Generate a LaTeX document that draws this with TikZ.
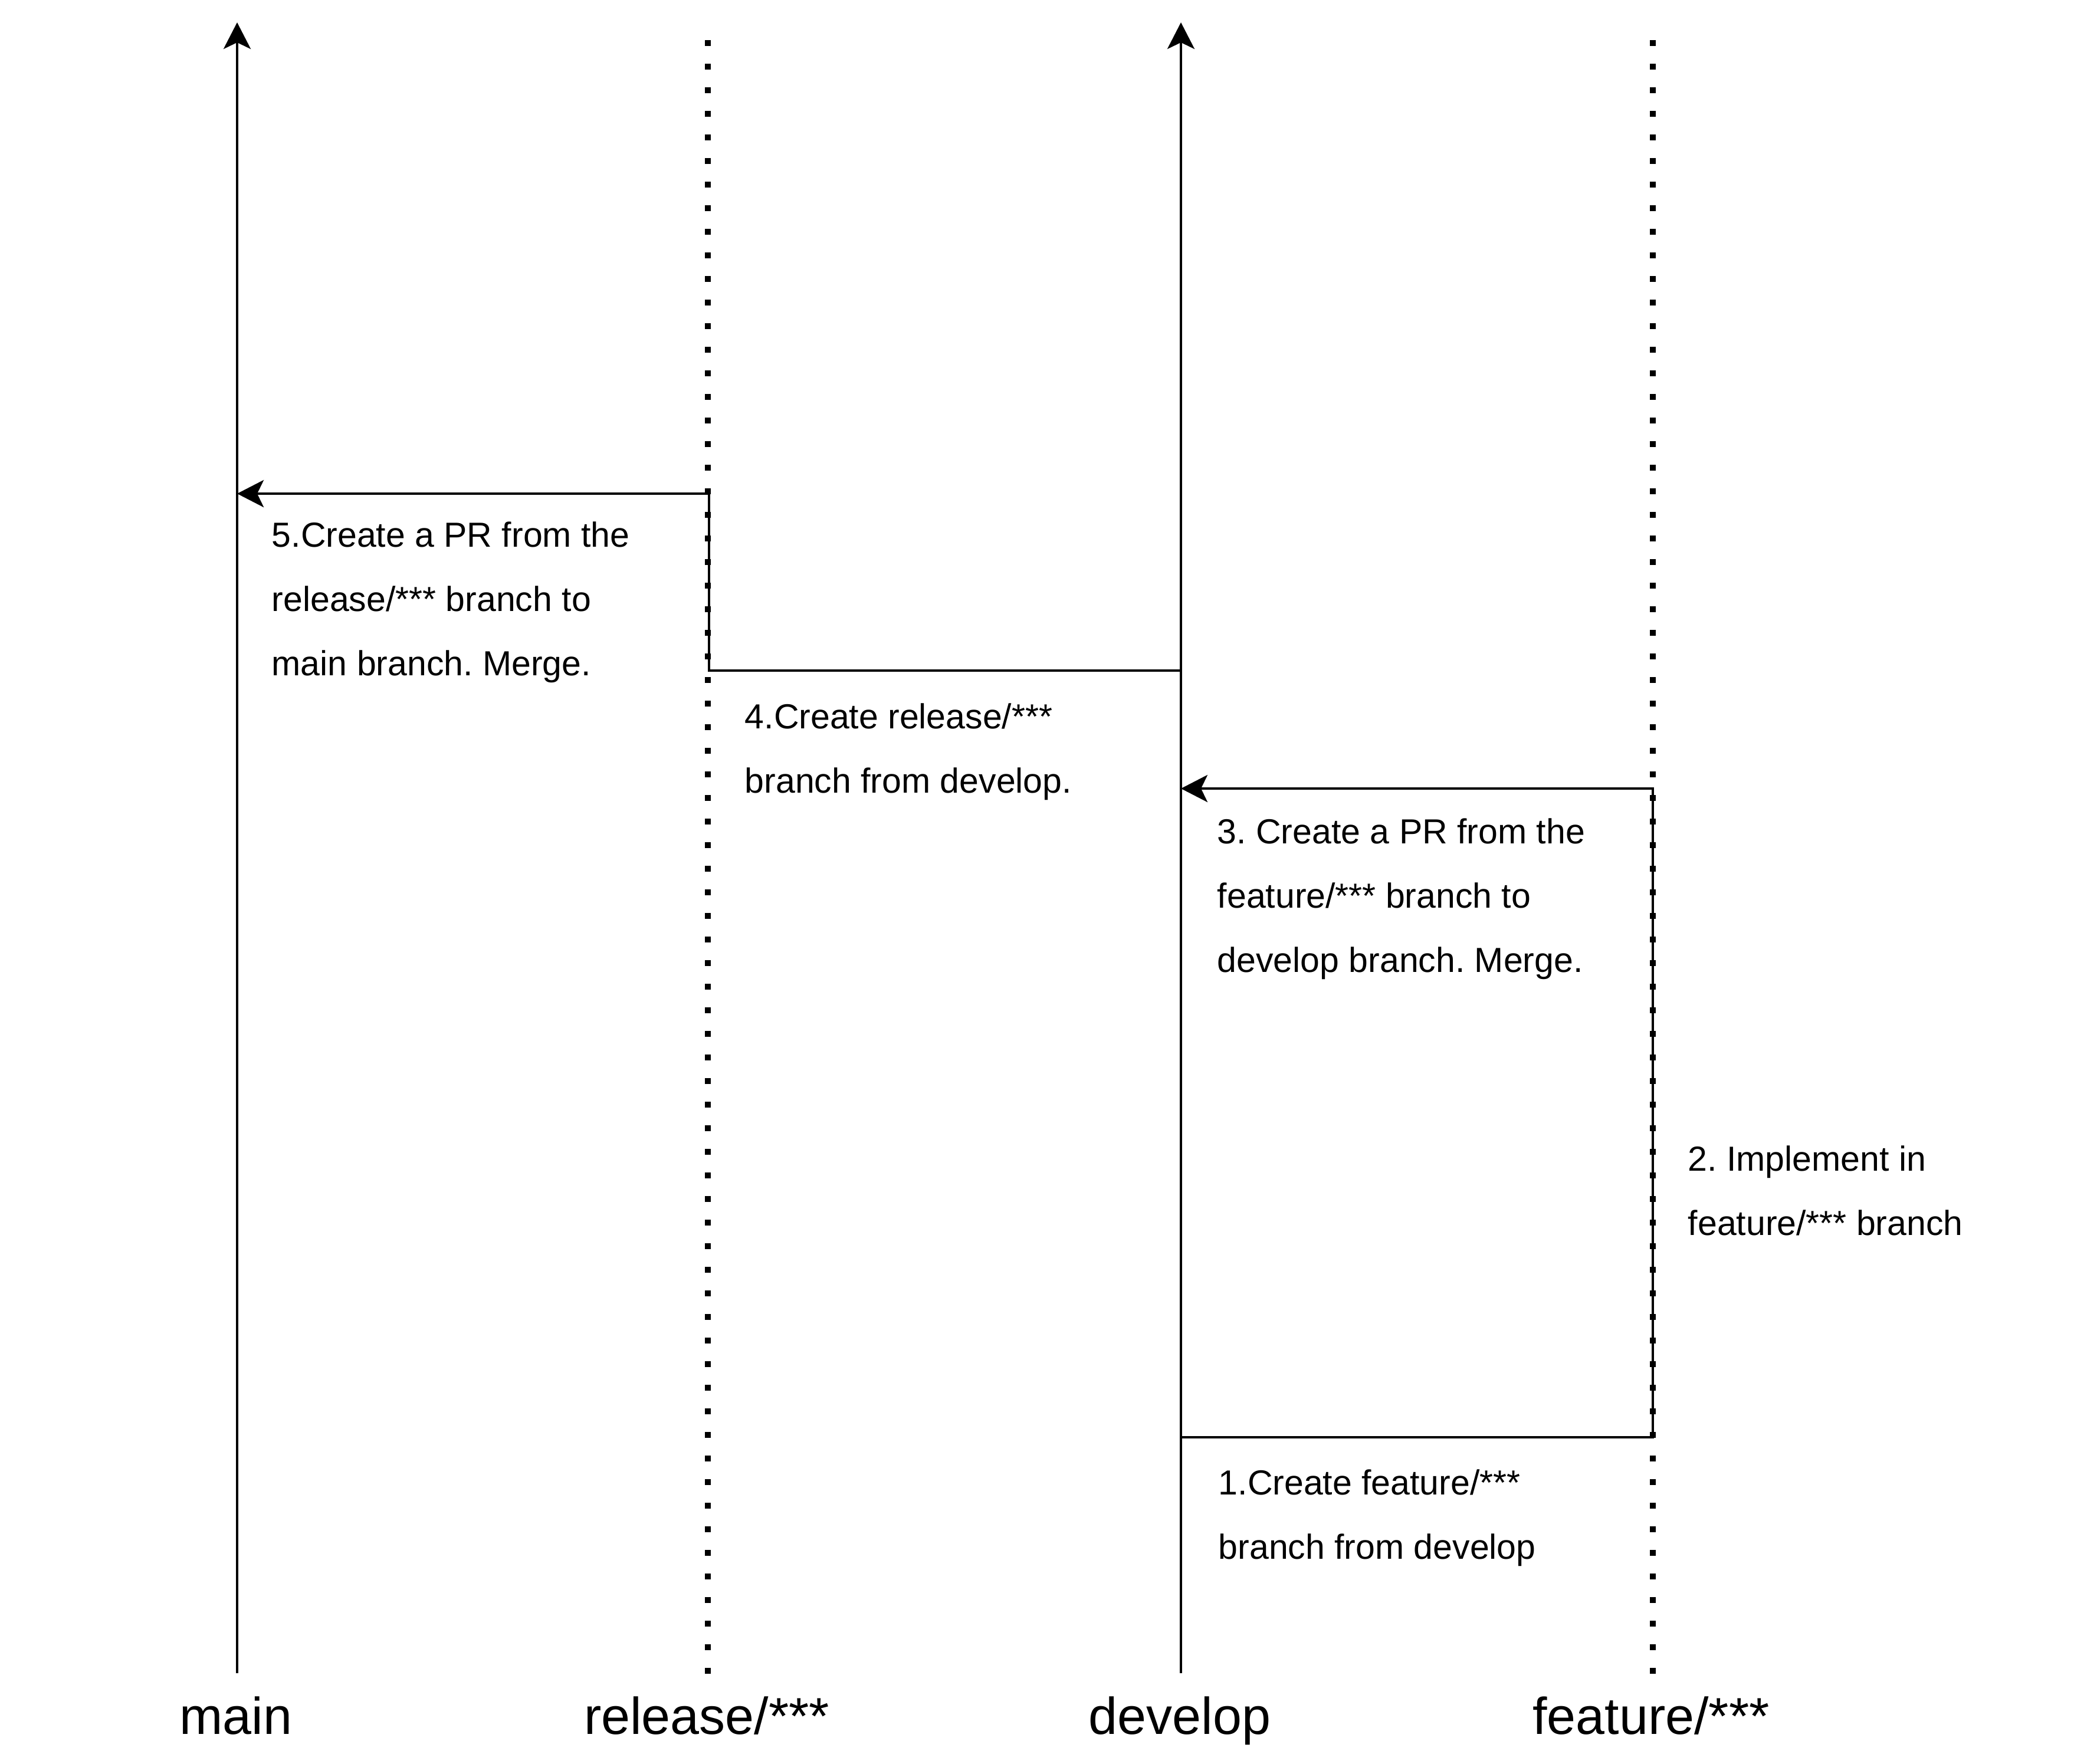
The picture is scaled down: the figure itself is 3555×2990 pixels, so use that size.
\documentclass[tikz,border=0pt]{standalone}
\usepackage{fontspec}
\setmainfont{Liberation Sans}
\usetikzlibrary{arrows.meta}
\frenchspacing
\begin{document}
\begin{tikzpicture}[x=0.25pt,y=-0.25pt,
  branchline/.style={line width=1.05pt},
  laneline/.style={line width=2.5pt, dash pattern=on 2.5pt off 7.5pt},
  flow/.style={line width=1.15pt},
  tipend/.style={-{Stealth[length=11.25pt,width=11.5pt,inset=2.75pt]}},
  note/.style={anchor=base west, inner sep=0pt, font=\fontsize{14.75}{27.25}\selectfont},
  lanename/.style={anchor=base, inner sep=0pt, font=\fontsize{22}{26}\selectfont}]
\useasboundingbox (0,0) rectangle (3555,2990);

% branch lanes: solid arrows for long-lived branches, dotted for short-lived ones
\coordinate (mainBot) at (402,2837);  \coordinate (mainTop) at (402,38);
\coordinate (relBot)  at (1200,2838); \coordinate (relTop)  at (1200,68);
\coordinate (devBot)  at (2002,2837); \coordinate (devTop)  at (2002,38);
\coordinate (featBot) at (2802,2838); \coordinate (featTop) at (2802,68);

\draw[laneline] (relTop) -- (relBot);
\draw[laneline] (featTop) -- (featBot);
\draw[branchline,tipend] (mainBot) -- (mainTop);
\draw[branchline,tipend] (devBot) -- (devTop);

% points where the steps meet the lanes
\coordinate (dev1)  at (2002,2437);
\coordinate (feat1) at (2802,2437);
\coordinate (feat3) at (2802,1337);
\coordinate (dev3)  at (2002,1337);
\coordinate (dev4)  at (2002,1137);
\coordinate (rel4)  at (1202,1137);
\coordinate (rel5)  at (1202,837);
\coordinate (main5) at (402,837);

% feature branch: created from develop, merged back via PR
\draw[flow,tipend] (dev1) -- (feat1) -- (feat3) -- (dev3);
% release branch: created from develop, merged into main via PR
\draw[flow,tipend] (dev4) -- (rel4) -- (rel5) -- (main5);

% step descriptions
\node[note] (step5) at (460,927) {\begin{tabular}[t]{@{}l@{}}5.Create a PR from the\\release/*** branch to\\main branch. Merge.\end{tabular}};
\node[note] (step4) at (1262,1235) {\begin{tabular}[t]{@{}l@{}}4.Create release/***\\branch from develop.\end{tabular}};
\node[note] (step3) at (2063,1430) {\begin{tabular}[t]{@{}l@{}}3. Create a PR from the\\feature/*** branch to\\develop branch. Merge.\end{tabular}};
\node[note] (step2) at (2861,1985) {\begin{tabular}[t]{@{}l@{}}2. Implement in\\feature/*** branch\end{tabular}};
\node[note] (step1) at (2065,2534) {\begin{tabular}[t]{@{}l@{}}1.Create feature/***\\branch from develop\end{tabular}};

% lane names
\node[lanename] (mainName) at (400,2940) {main};
\node[lanename] (relName)  at (1198,2940) {release/***};
\node[lanename] (devName)  at (2000,2940) {develop};
\node[lanename] (featName) at (2799,2940) {feature/***};
\end{tikzpicture}
\end{document}
